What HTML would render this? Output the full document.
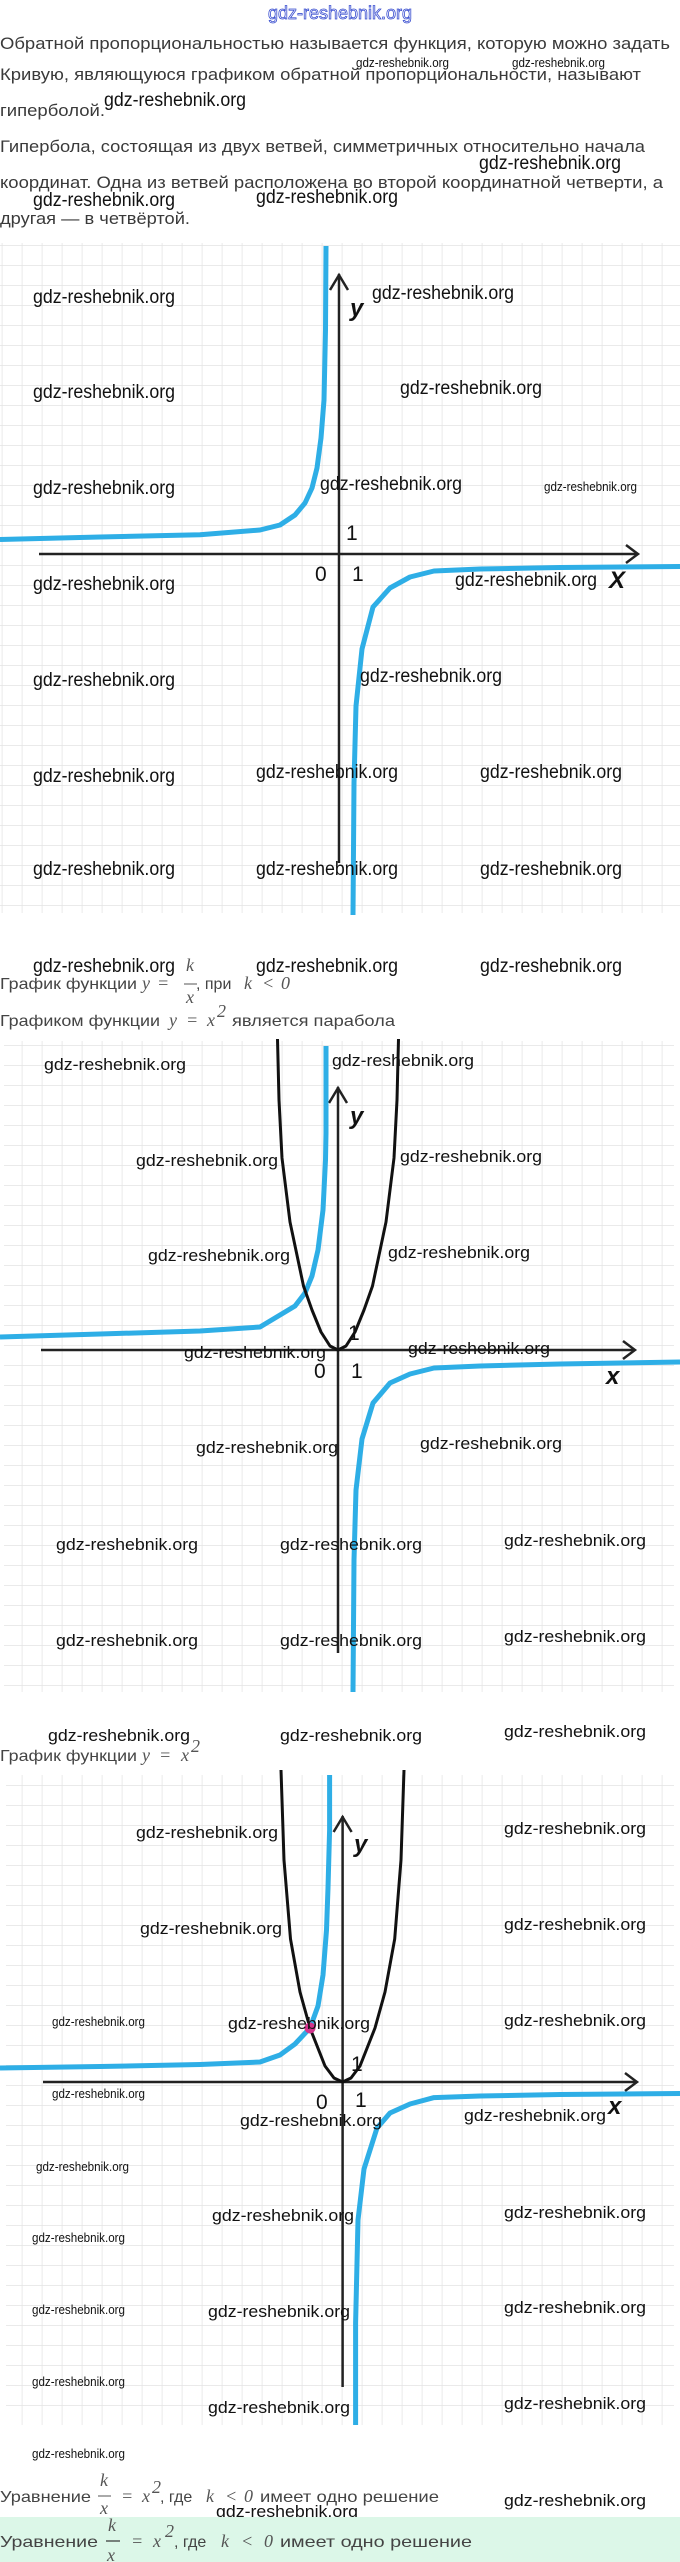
<!DOCTYPE html>
<html><head><meta charset="utf-8"><style>
html,body{margin:0;padding:0;background:#fff;}
svg{display:block;}
.t{font-family:"Liberation Sans",sans-serif;fill:#3a3a3a;font-size:17px;}
.c{font-family:"Liberation Sans",sans-serif;fill:#444;font-size:16px;}
.m{font-family:"Liberation Serif",serif;font-style:italic;fill:#555;font-size:18px;}
.w{font-family:"Liberation Sans Narrow","Liberation Sans",sans-serif;fill:#111;font-size:19px;}
.w2{font-family:"Liberation Sans",sans-serif;fill:#111;font-size:17px;}
.ws{font-family:"Liberation Sans Narrow","Liberation Sans",sans-serif;fill:#111;font-size:13px;}
.n{font-family:"Liberation Sans",sans-serif;fill:#111;font-size:21px;}
.ax{font-family:"Liberation Sans",sans-serif;font-style:italic;font-weight:bold;fill:#111;font-size:24px;}
.hb{fill:none;stroke:#2eaee6;stroke-width:5;stroke-linejoin:round;stroke-linecap:butt;}
.pb{fill:none;stroke:#111;stroke-width:3;stroke-linejoin:round;}
.axl{fill:none;stroke:#222;stroke-width:2.5;}
</style></head><body>
<svg width="680" height="2562" viewBox="0 0 680 2562" xmlns="http://www.w3.org/2000/svg">
<defs>
<pattern id="g" x="1.7" y="5" width="20" height="20" patternUnits="userSpaceOnUse">
<path d="M0 0H20M0 0V20" stroke="#e4e4e4" stroke-width="1.6" fill="none"/>
</pattern>
</defs>

<text x="340" y="19" text-anchor="middle" font-family="Liberation Sans Narrow, Liberation Sans, sans-serif" font-size="18" fill="#fff" stroke="#3a4fd0" stroke-width="0.8" textLength="144" lengthAdjust="spacingAndGlyphs">gdz-reshebnik.org</text>

<text class="t" x="0" y="49" textLength="670" lengthAdjust="spacingAndGlyphs">Обратной пропорциональностью называется функция, которую можно задать</text>
<text class="t" x="0" y="80" textLength="641" lengthAdjust="spacingAndGlyphs">Кривую, являющуюся графиком обратной пропорциональности, называют</text>
<text class="t" x="0" y="116" textLength="105" lengthAdjust="spacingAndGlyphs">гиперболой.</text>
<text class="t" x="0" y="152" textLength="645" lengthAdjust="spacingAndGlyphs">Гипербола, состоящая из двух ветвей, симметричных относительно начала</text>
<text class="t" x="0" y="188" textLength="663" lengthAdjust="spacingAndGlyphs">координат. Одна из ветвей расположена во второй координатной четверти, а</text>
<text class="t" x="0" y="224" textLength="190" lengthAdjust="spacingAndGlyphs">другая — в четвёртой.</text>

<!-- GRAPH 1 -->
<rect x="0" y="243" width="680" height="670" fill="url(#g)"/>
<path class="axl" d="M339 274V863M39 554H638"/>
<path class="axl" d="M330 290L339 275L348 290M626 545L638 554L626 563"/>
<polyline class="hb" points="0,539.5 100,537 200,534.8 260,530 280,525 295,515 305,503 312,488 317,468 321,438 324,400 325.5,330 326,246"/>
<polyline class="hb" points="680,566.5 560,567.5 480,569 434,571 410,577 390,588 373,607 362,649 356,706 354,783 353,915"/>
<text class="n" x="346" y="540">1</text>
<text class="n" x="315" y="581">0</text>
<text class="n" x="352" y="581">1</text>
<text class="ax" x="609" y="588">X</text>
<text class="ax" x="350" y="316" font-size="30">y</text>

<!-- watermarks top area -->
<text class="ws" x="356" y="67" textLength="93" lengthAdjust="spacingAndGlyphs">gdz-reshebnik.org</text>
<text class="ws" x="512" y="67" textLength="93" lengthAdjust="spacingAndGlyphs">gdz-reshebnik.org</text>
<text class="w" x="104" y="106" textLength="142" lengthAdjust="spacingAndGlyphs">gdz-reshebnik.org</text>
<text class="w" x="479" y="169" textLength="142" lengthAdjust="spacingAndGlyphs">gdz-reshebnik.org</text>
<text class="w" x="33" y="206" textLength="142" lengthAdjust="spacingAndGlyphs">gdz-reshebnik.org</text>
<text class="w" x="256" y="203" textLength="142" lengthAdjust="spacingAndGlyphs">gdz-reshebnik.org</text>
<text class="w" x="33" y="303" textLength="142" lengthAdjust="spacingAndGlyphs">gdz-reshebnik.org</text>
<text class="w" x="372" y="299" textLength="142" lengthAdjust="spacingAndGlyphs">gdz-reshebnik.org</text>
<text class="w" x="33" y="398" textLength="142" lengthAdjust="spacingAndGlyphs">gdz-reshebnik.org</text>
<text class="w" x="400" y="394" textLength="142" lengthAdjust="spacingAndGlyphs">gdz-reshebnik.org</text>
<text class="w" x="33" y="494" textLength="142" lengthAdjust="spacingAndGlyphs">gdz-reshebnik.org</text>
<text class="w" x="320" y="490" textLength="142" lengthAdjust="spacingAndGlyphs">gdz-reshebnik.org</text>
<text class="ws" x="544" y="491" textLength="93" lengthAdjust="spacingAndGlyphs">gdz-reshebnik.org</text>
<text class="w" x="33" y="590" textLength="142" lengthAdjust="spacingAndGlyphs">gdz-reshebnik.org</text>
<text class="w" x="455" y="586" textLength="142" lengthAdjust="spacingAndGlyphs">gdz-reshebnik.org</text>
<text class="w" x="360" y="682" textLength="142" lengthAdjust="spacingAndGlyphs">gdz-reshebnik.org</text>
<text class="w" x="33" y="686" textLength="142" lengthAdjust="spacingAndGlyphs">gdz-reshebnik.org</text>
<text class="w" x="33" y="782" textLength="142" lengthAdjust="spacingAndGlyphs">gdz-reshebnik.org</text>
<text class="w" x="256" y="778" textLength="142" lengthAdjust="spacingAndGlyphs">gdz-reshebnik.org</text>
<text class="w" x="480" y="778" textLength="142" lengthAdjust="spacingAndGlyphs">gdz-reshebnik.org</text>
<text class="w" x="33" y="875" textLength="142" lengthAdjust="spacingAndGlyphs">gdz-reshebnik.org</text>
<text class="w" x="256" y="875" textLength="142" lengthAdjust="spacingAndGlyphs">gdz-reshebnik.org</text>
<text class="w" x="480" y="875" textLength="142" lengthAdjust="spacingAndGlyphs">gdz-reshebnik.org</text>
<text class="w" x="33" y="972" textLength="142" lengthAdjust="spacingAndGlyphs">gdz-reshebnik.org</text>
<text class="w" x="256" y="972" textLength="142" lengthAdjust="spacingAndGlyphs">gdz-reshebnik.org</text>
<text class="w" x="480" y="972" textLength="142" lengthAdjust="spacingAndGlyphs">gdz-reshebnik.org</text>

<!-- caption 1 -->
<text class="c" x="0" y="989" textLength="137" lengthAdjust="spacingAndGlyphs">График функции</text>
<text class="m" x="142" y="989">y</text>
<text class="m" x="157" y="989" font-style="normal">=</text>
<text class="m" x="186" y="971">k</text>
<path d="M184 984H197" stroke="#555" stroke-width="1"/>
<text class="m" x="186" y="1003">x</text>
<text class="c" x="196" y="989">, при</text>
<text class="m" x="244" y="989">k</text>
<text class="m" x="262" y="989" font-style="normal">&lt;</text>
<text class="m" x="281" y="989" font-style="normal">0</text>

<!-- caption 2 -->
<text class="c" x="0" y="1026" textLength="160" lengthAdjust="spacingAndGlyphs">Графиком функции</text>
<text class="m" x="169" y="1026">y</text>
<text class="m" x="186" y="1026" font-style="normal">=</text>
<text class="m" x="207" y="1026">x</text>
<text class="m" x="217" y="1017" font-size="12" font-style="normal">2</text>
<text class="c" x="232" y="1026" textLength="163" lengthAdjust="spacingAndGlyphs">является парабола</text>

<!-- GRAPH 2 -->
<rect x="4" y="1041" width="670" height="651" fill="url(#g)"/>
<path class="axl" d="M338 1087V1653M41 1350H635"/>
<path class="axl" d="M329 1103L338 1088L347 1103M623 1341L635 1350L623 1359"/>
<polyline class="hb" points="0,1337 100,1334 200,1331 260,1327 295,1306 305,1293 312,1276 318,1250 323,1210 325.5,1160 326,1133 326,1046"/>
<polyline class="hb" points="680,1362 560,1364 480,1366 434,1368 410,1374 390,1383 373,1403 362,1439 356,1490 354,1560 353,1692"/>
<polyline class="pb" points="277.5,1039 279,1100 282,1158 290,1222 303.5,1286 312,1310 321,1332 330,1346 338,1350 346,1346 355,1332 364,1310 372.5,1286 386,1222 394,1158 397,1100 398.5,1039"/>
<text class="n" x="348" y="1340">1</text>
<text class="n" x="314" y="1378">0</text>
<text class="n" x="351" y="1378">1</text>
<text class="ax" x="606" y="1384">x</text>
<text class="ax" x="350" y="1124" font-size="30">y</text>

<text class="w2" x="44" y="1070" textLength="142" lengthAdjust="spacingAndGlyphs">gdz-reshebnik.org</text>
<text class="w2" x="332" y="1066" textLength="142" lengthAdjust="spacingAndGlyphs">gdz-reshebnik.org</text>
<text class="w2" x="136" y="1166" textLength="142" lengthAdjust="spacingAndGlyphs">gdz-reshebnik.org</text>
<text class="w2" x="400" y="1162" textLength="142" lengthAdjust="spacingAndGlyphs">gdz-reshebnik.org</text>
<text class="w2" x="148" y="1261" textLength="142" lengthAdjust="spacingAndGlyphs">gdz-reshebnik.org</text>
<text class="w2" x="388" y="1258" textLength="142" lengthAdjust="spacingAndGlyphs">gdz-reshebnik.org</text>
<text class="w2" x="184" y="1358" textLength="142" lengthAdjust="spacingAndGlyphs">gdz-reshebnik.org</text>
<text class="w2" x="408" y="1354" textLength="142" lengthAdjust="spacingAndGlyphs">gdz-reshebnik.org</text>
<text class="w2" x="196" y="1453" textLength="142" lengthAdjust="spacingAndGlyphs">gdz-reshebnik.org</text>
<text class="w2" x="420" y="1449" textLength="142" lengthAdjust="spacingAndGlyphs">gdz-reshebnik.org</text>
<text class="w2" x="56" y="1550" textLength="142" lengthAdjust="spacingAndGlyphs">gdz-reshebnik.org</text>
<text class="w2" x="280" y="1550" textLength="142" lengthAdjust="spacingAndGlyphs">gdz-reshebnik.org</text>
<text class="w2" x="504" y="1546" textLength="142" lengthAdjust="spacingAndGlyphs">gdz-reshebnik.org</text>
<text class="w2" x="56" y="1646" textLength="142" lengthAdjust="spacingAndGlyphs">gdz-reshebnik.org</text>
<text class="w2" x="280" y="1646" textLength="142" lengthAdjust="spacingAndGlyphs">gdz-reshebnik.org</text>
<text class="w2" x="504" y="1642" textLength="142" lengthAdjust="spacingAndGlyphs">gdz-reshebnik.org</text>
<text class="w2" x="48" y="1741" textLength="142" lengthAdjust="spacingAndGlyphs">gdz-reshebnik.org</text>
<text class="w2" x="280" y="1741" textLength="142" lengthAdjust="spacingAndGlyphs">gdz-reshebnik.org</text>
<text class="w2" x="504" y="1737" textLength="142" lengthAdjust="spacingAndGlyphs">gdz-reshebnik.org</text>

<!-- caption 3 -->
<text class="c" x="0" y="1761" textLength="137" lengthAdjust="spacingAndGlyphs">График функции</text>
<text class="m" x="142" y="1761">y</text>
<text class="m" x="159" y="1761" font-style="normal">=</text>
<text class="m" x="181" y="1761">x</text>
<text class="m" x="191" y="1752" font-size="12" font-style="normal">2</text>

<!-- GRAPH 3 -->
<rect x="6" y="1775" width="668" height="650" fill="url(#g)"/>
<path class="axl" d="M342.6 1816V2387M43 2082H637"/>
<path class="axl" d="M333.6 1832L342.6 1817L351.6 1832M625 2073L637 2082L625 2091"/>
<polyline class="hb" points="0,2068 100,2066.5 200,2064.5 260,2062 280,2055 295,2044 310,2028 318,2006 323,1975 326.5,1930 328,1888 329.6,1830 329.6,1775"/>
<polyline class="hb" points="680,2093.5 560,2094.5 480,2096 434,2097.6 410,2104 390,2113 377,2128 364,2169 358,2220 355.6,2323 355.6,2425"/>
<polyline class="pb" points="281,1770 284,1860 290.5,1939 300,1992 310,2028 325,2066 334,2078 342.6,2082 351,2078 360,2066 375,2028 385,1992 394.7,1939 401,1860 404,1770"/>
<circle cx="310" cy="2028" r="5.5" fill="#d2338c"/>
<text class="n" x="351" y="2071">1</text>
<text class="n" x="316" y="2109">0</text>
<text class="n" x="355" y="2107">1</text>
<text class="ax" x="608" y="2114">x</text>
<text class="ax" x="354" y="1852" font-size="30">y</text>

<text class="w2" x="136" y="1838" textLength="142" lengthAdjust="spacingAndGlyphs">gdz-reshebnik.org</text>
<text class="w2" x="504" y="1834" textLength="142" lengthAdjust="spacingAndGlyphs">gdz-reshebnik.org</text>
<text class="w2" x="140" y="1934" textLength="142" lengthAdjust="spacingAndGlyphs">gdz-reshebnik.org</text>
<text class="w2" x="504" y="1930" textLength="142" lengthAdjust="spacingAndGlyphs">gdz-reshebnik.org</text>
<text class="ws" x="52" y="2026" textLength="93" lengthAdjust="spacingAndGlyphs">gdz-reshebnik.org</text>
<text class="w2" x="228" y="2029" textLength="142" lengthAdjust="spacingAndGlyphs">gdz-reshebnik.org</text>
<text class="w2" x="504" y="2026" textLength="142" lengthAdjust="spacingAndGlyphs">gdz-reshebnik.org</text>
<text class="ws" x="52" y="2098" textLength="93" lengthAdjust="spacingAndGlyphs">gdz-reshebnik.org</text>
<text class="w2" x="240" y="2126" textLength="142" lengthAdjust="spacingAndGlyphs">gdz-reshebnik.org</text>
<text class="w2" x="464" y="2121" textLength="142" lengthAdjust="spacingAndGlyphs">gdz-reshebnik.org</text>
<text class="ws" x="36" y="2171" textLength="93" lengthAdjust="spacingAndGlyphs">gdz-reshebnik.org</text>
<text class="w2" x="212" y="2221" textLength="142" lengthAdjust="spacingAndGlyphs">gdz-reshebnik.org</text>
<text class="w2" x="504" y="2218" textLength="142" lengthAdjust="spacingAndGlyphs">gdz-reshebnik.org</text>
<text class="ws" x="32" y="2242" textLength="93" lengthAdjust="spacingAndGlyphs">gdz-reshebnik.org</text>
<text class="ws" x="32" y="2314" textLength="93" lengthAdjust="spacingAndGlyphs">gdz-reshebnik.org</text>
<text class="w2" x="208" y="2317" textLength="142" lengthAdjust="spacingAndGlyphs">gdz-reshebnik.org</text>
<text class="w2" x="504" y="2313" textLength="142" lengthAdjust="spacingAndGlyphs">gdz-reshebnik.org</text>
<text class="ws" x="32" y="2386" textLength="93" lengthAdjust="spacingAndGlyphs">gdz-reshebnik.org</text>
<text class="w2" x="208" y="2413" textLength="142" lengthAdjust="spacingAndGlyphs">gdz-reshebnik.org</text>
<text class="w2" x="504" y="2409" textLength="142" lengthAdjust="spacingAndGlyphs">gdz-reshebnik.org</text>
<text class="ws" x="32" y="2458" textLength="93" lengthAdjust="spacingAndGlyphs">gdz-reshebnik.org</text>
<text class="w2" x="504" y="2506" textLength="142" lengthAdjust="spacingAndGlyphs">gdz-reshebnik.org</text>

<!-- final line 1 -->
<text class="c" x="0" y="2502" textLength="91" lengthAdjust="spacingAndGlyphs">Уравнение</text>
<text class="m" x="100" y="2486">k</text>
<path d="M98 2496H111" stroke="#555" stroke-width="1"/>
<text class="m" x="100" y="2514">x</text>
<text class="m" x="121" y="2502" font-style="normal">=</text>
<text class="m" x="142" y="2502">x</text>
<text class="m" x="152" y="2493" font-size="12" font-style="normal">2</text>
<text class="c" x="160" y="2502">, где</text>
<text class="m" x="206" y="2502">k</text>
<text class="m" x="225" y="2502" font-style="normal">&lt;</text>
<text class="m" x="244" y="2502" font-style="normal">0</text>
<text class="c" x="260" y="2502" textLength="179" lengthAdjust="spacingAndGlyphs">имеет одно решение</text>
<text class="w2" x="216" y="2517" textLength="142" lengthAdjust="spacingAndGlyphs">gdz-reshebnik.org</text>

<!-- final green line -->
<rect x="0" y="2517" width="680" height="45" fill="#dcf7e8"/>
<text class="c" x="0" y="2547" font-size="19" fill="#333" textLength="98" lengthAdjust="spacingAndGlyphs">Уравнение</text>
<text class="m" x="108" y="2531" font-size="20" fill="#333">k</text>
<path d="M106 2541H120" stroke="#333" stroke-width="1.2"/>
<text class="m" x="107" y="2561" font-size="20" fill="#333">x</text>
<text class="m" x="131" y="2547" font-size="20" font-style="normal" fill="#333">=</text>
<text class="m" x="153" y="2547" font-size="20" fill="#333">x</text>
<text class="m" x="165" y="2537" font-size="13" font-style="normal" fill="#333">2</text>
<text class="c" x="174" y="2547" font-size="19" fill="#333">, где</text>
<text class="m" x="221" y="2547" font-size="20" fill="#333">k</text>
<text class="m" x="241" y="2547" font-size="20" font-style="normal" fill="#333">&lt;</text>
<text class="m" x="264" y="2547" font-size="20" font-style="normal" fill="#333">0</text>
<text class="c" x="280" y="2547" font-size="19" fill="#333" textLength="192" lengthAdjust="spacingAndGlyphs">имеет одно решение</text>
</svg>
</body></html>
